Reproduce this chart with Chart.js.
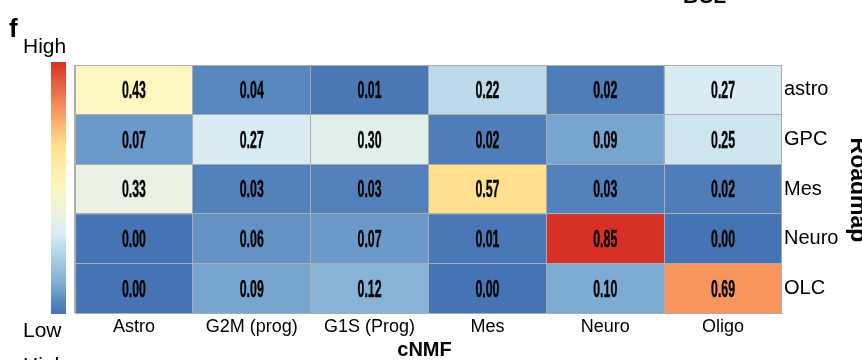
<!DOCTYPE html>
<html>
<head>
<meta charset="utf-8">
<script src="https://cdn.jsdelivr.net/npm/chart.js@4/dist/chart.umd.min.js"></script>
<style>
  html, body { margin: 0; padding: 0; background: #fff; }
  #wrap { width: 862px; height: 360px; position: relative; }
</style>
</head>
<body>
<div id="wrap"><canvas id="c" width="862" height="360"></canvas></div>
<script>
// ---- data ----
const cnmfPrograms = ['Astro', 'G2M (prog)', 'G1S (Prog)', 'Mes', 'Neuro', 'Oligo'];
const roadmapStates = ['astro', 'GPC', 'Mes', 'Neuro', 'OLC'];
const astroRow = [0.43, 0.04, 0.01, 0.22, 0.02, 0.27];
const gpcRow   = [0.07, 0.27, 0.30, 0.02, 0.09, 0.25];
const mesRow   = [0.33, 0.03, 0.03, 0.57, 0.03, 0.02];
const neuroRow = [0.00, 0.06, 0.07, 0.01, 0.85, 0.00];
const olcRow   = [0.00, 0.09, 0.12, 0.00, 0.10, 0.69];
const rowValues = [astroRow, gpcRow, mesRow, neuroRow, olcRow];

// ---- style: colour scale ----
const COLOR_STOPS = [
  [0.00, '#4573b3'], [0.04, '#5886bf'], [0.10, '#7dabd2'], [0.22, '#bcdaea'],
  [0.27, '#d9ecf3'], [0.33, '#eaf3e3'], [0.43, '#fcf7c0'], [0.57, '#fee08e'],
  [0.69, '#f8955f'], [0.85, '#d73027']
];
const VMAX = 0.85;
function hex2rgb(h) { return [1,3,5].map(i => parseInt(h.substr(i,2),16)); }
function colorFor(v) {
  if (v <= COLOR_STOPS[0][0]) return COLOR_STOPS[0][1];
  for (let i = 1; i < COLOR_STOPS.length; i++) {
    const [v1, c1] = COLOR_STOPS[i];
    if (v <= v1) {
      const [v0, c0] = COLOR_STOPS[i-1];
      const t = (v - v0) / (v1 - v0);
      const a = hex2rgb(c0), b = hex2rgb(c1);
      const m = a.map((x, k) => Math.round(x + (b[k] - x) * t));
      return `rgb(${m[0]},${m[1]},${m[2]})`;
    }
  }
  return COLOR_STOPS[COLOR_STOPS.length-1][1];
}

const GRID = '#adadad';
const SANS = '"Liberation Sans", Arial, Helvetica, sans-serif';

const datasets = rowValues.map((vals, r) => ({
  label: roadmapStates[r],
  data: vals.map(() => [r - 0.5, r + 0.5]),
  backgroundColor: vals.map(colorFor),
  borderWidth: 0,
  barPercentage: 1,
  categoryPercentage: 1,
  grouped: false,
  yAxisID: 'y'
}));

const cellText = {
  id: 'cellText',
  afterDatasetsDraw(chart) {
    const ctx = chart.ctx;
    ctx.save();
    ctx.font = 'bold 23px "Liberation Sans Narrow", "Liberation Sans", Arial, sans-serif';
    const sx = 24 / ctx.measureText('0.00').width;
    ctx.fillStyle = '#000';
    ctx.strokeStyle = '#000';
    ctx.lineWidth = 0.4;
    ctx.lineJoin = 'round';
    ctx.textAlign = 'center';
    ctx.textBaseline = 'alphabetic';
    chart.data.datasets.forEach((ds, di) => {
      const meta = chart.getDatasetMeta(di);
      meta.data.forEach((bar, ci) => {
        const txt = rowValues[di][ci].toFixed(2);
        const cy = (bar.y + bar.base) / 2;
        ctx.save();
        ctx.translate(bar.x, cy);
        ctx.scale(sx, 1);
        ctx.fillText(txt, 0, 8.3);
        ctx.strokeText(txt, 0, 8.3);
        ctx.restore();
      });
    });
    ctx.restore();
  }
};

const decorations = {
  id: 'decorations',
  afterDraw(chart) {
    const ctx = chart.ctx;
    ctx.save();
    // colour bar
    const x0 = 51, x1 = 66, yt = 62, yb = 314;
    const g = ctx.createLinearGradient(0, yb, 0, yt);
    COLOR_STOPS.forEach(([v, c]) => g.addColorStop(v / VMAX, c));
    ctx.fillStyle = g;
    ctx.fillRect(x0, yt, x1 - x0, yb - yt);

    ctx.fillStyle = '#000';
    ctx.textAlign = 'left';
    ctx.textBaseline = 'alphabetic';
    ctx.font = 'bold 26px ' + SANS;
    ctx.fillText('f', 9, 37);
    ctx.font = '21px ' + SANS;
    ctx.fillText('High', 23, 53);
    ctx.fillText('Low', 23, 337);
    ctx.fillText('High', 23, 372);
    ctx.font = 'bold 21px ' + SANS;
    ctx.fillText('BCL', 683, 3);

    // x axis title
    const ca = chart.chartArea;
    ctx.textAlign = 'center';
    ctx.font = 'bold 20px ' + SANS;
    ctx.fillText('cNMF', (ca.left + ca.right) / 2 - 4, 356);

    // right side title (rotated)
    ctx.save();
    ctx.translate(851, 190);
    ctx.rotate(Math.PI / 2);
    ctx.font = 'bold 23px ' + SANS;
    ctx.fillText('Roadmap', 0, 0);
    ctx.restore();
    ctx.restore();
  }
};

new Chart(document.getElementById('c'), {
  type: 'bar',
  data: { labels: cnmfPrograms, datasets },
  options: {
    responsive: false,
    animation: false,
    devicePixelRatio: 1,
    layout: { padding: { left: 75, top: 65, right: 0, bottom: 0 } },
    plugins: { legend: { display: false }, tooltip: { enabled: false }, title: { display: false } },
    scales: {
      x: {
        type: 'category',
        offset: true,
        grid: { offset: true, color: GRID, lineWidth: 1, drawTicks: false, z: 1 },
        border: { display: true, color: GRID, z: 1 },
        ticks: { color: '#000', font: { family: SANS, size: 18 }, padding: 3, maxRotation: 0, autoSkip: false },
        afterFit(s) { s.height = 47; }
      },
      y: {
        type: 'linear',
        position: 'left',
        reverse: true,
        min: -0.5, max: 4.5,
        afterBuildTicks(s) { s.ticks = [-0.5, 0.5, 1.5, 2.5, 3.5, 4.5].map(v => ({ value: v })); },
        grid: { color: GRID, lineWidth: 1, drawTicks: false, z: 1 },
        border: { display: true, color: GRID, z: 1 },
        ticks: { display: false },
        afterFit(s) { s.width = 0; }
      },
      yl: {
        type: 'linear',
        position: 'right',
        reverse: true,
        min: -0.5, max: 4.5,
        afterBuildTicks(s) { s.ticks = [0, 1, 2, 3, 4].map(v => ({ value: v })); },
        grid: { display: false, drawTicks: false },
        border: { display: false },
        ticks: {
          color: '#000', font: { family: SANS, size: 20 }, padding: 2,
          callback: (v) => roadmapStates[Math.round(v)] ?? ''
        },
        afterFit(s) { s.width = 80; }
      }
    }
  },
  plugins: [cellText, decorations]
});
</script>
</body>
</html>
